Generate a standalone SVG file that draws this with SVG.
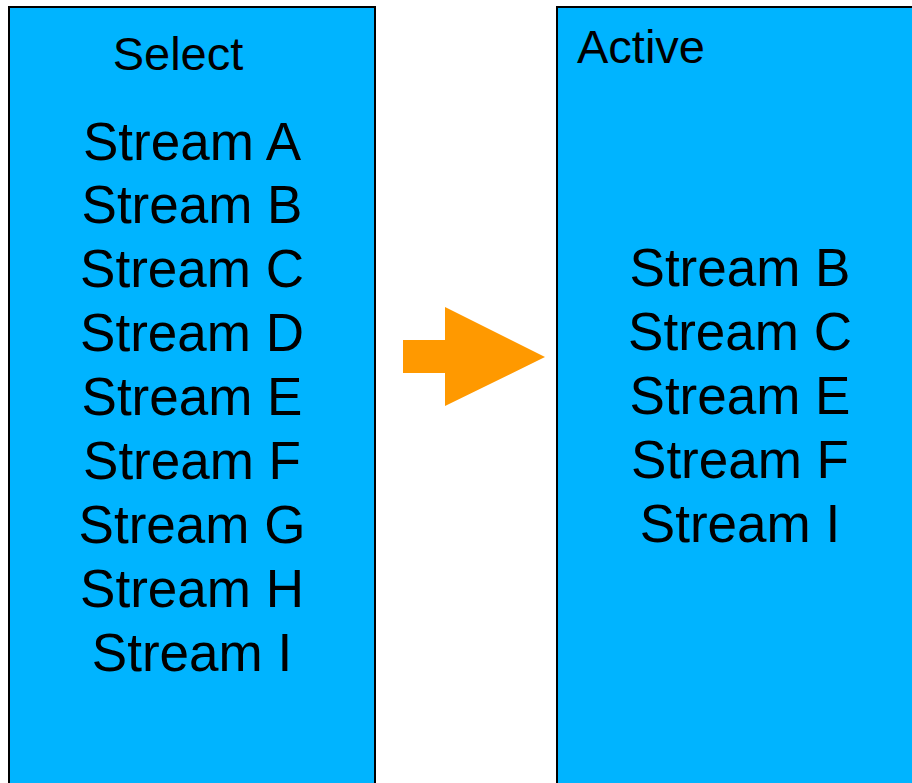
<svg xmlns="http://www.w3.org/2000/svg" width="912" height="783" viewBox="0 0 912 783">
<style>
.box{fill:#00B4FF;stroke:#000;stroke-width:2}
.t{font-family:"Liberation Sans",Arial,sans-serif;fill:#000}
.s{font-size:53px;text-anchor:middle}
.h{font-size:47px}
</style>
<rect width="912" height="783" fill="#fff"/>
<g id="select">
<rect class="box" x="9" y="7" width="366" height="790"/>
<text class="t h" x="178" y="70" text-anchor="middle">Select</text>
<text class="t s" x="192" y="160">Stream A</text>
<text class="t s" x="192" y="223">Stream B</text>
<text class="t s" x="192" y="287">Stream C</text>
<text class="t s" x="192" y="351">Stream D</text>
<text class="t s" x="192" y="415">Stream E</text>
<text class="t s" x="192" y="479">Stream F</text>
<text class="t s" x="192" y="543">Stream G</text>
<text class="t s" x="192" y="607">Stream H</text>
<text class="t s" x="192" y="671">Stream I</text>
</g>
<g id="active">
<rect class="box" x="557" y="7" width="370" height="790"/>
<text class="t h" x="577" y="63">Active</text>
<text class="t s" x="740" y="286">Stream B</text>
<text class="t s" x="740" y="350">Stream C</text>
<text class="t s" x="740" y="414">Stream E</text>
<text class="t s" x="740" y="478">Stream F</text>
<text class="t s" x="740" y="542">Stream I</text>
</g>
<g id="connectors">
<polygon points="403,340 445,340 445,307 545,357 445,406 445,373 403,373" fill="#FF9900"/>
</g>
</svg>
